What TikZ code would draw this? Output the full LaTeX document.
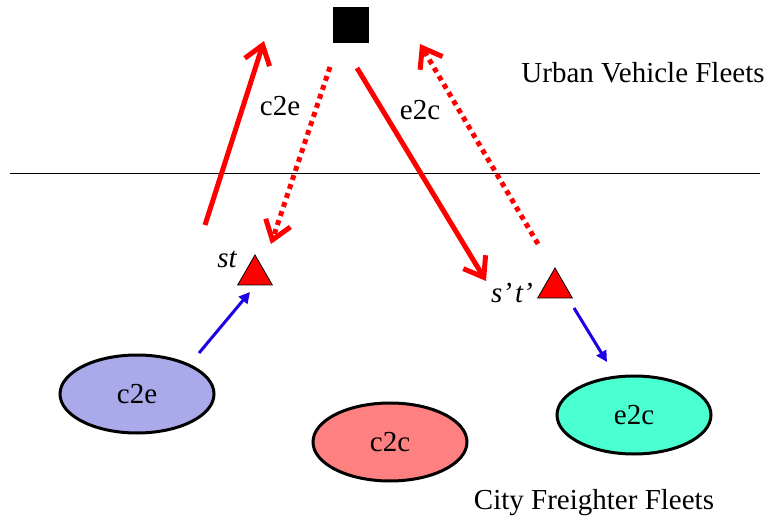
\documentclass[tikz,border=0pt]{standalone}
\usepackage{fontspec}
\setmainfont{Liberation Serif}
\usetikzlibrary{arrows.meta,shapes.geometric}
\definecolor{redarr}{RGB}{255,0,0}
\definecolor{bluearr}{RGB}{30,0,230}
\definecolor{fillA}{RGB}{170,170,235}
\definecolor{fillB}{RGB}{255,128,128}
\definecolor{fillC}{RGB}{74,255,208}
\begin{document}
\begin{tikzpicture}[x=1pt,y=-1pt,
  txt/.style={font=\fontsize{29}{33}\selectfont, inner sep=0pt},
  itxt/.style={font=\fontsize{29}{33}\selectfont\itshape, inner sep=0pt, anchor=base},
  fleet/.style={ellipse, draw=black, line width=3pt, minimum width=154pt, minimum height=78pt, inner sep=0pt, font=\fontsize{29}{33}\selectfont},
  tri/.style={regular polygon, regular polygon sides=3, fill=red, draw=black, line width=0.8pt, minimum size=40pt, inner sep=0pt},
  redsolid/.style={draw=redarr, line width=5pt, -{Straight Barb[length=18pt,width=26pt,line width=5pt]}},
  reddot/.style={draw=redarr, line width=5pt, dash pattern=on 5pt off 4.5pt, -{Straight Barb[length=18pt,width=26pt,line width=5pt]}},
  bluear/.style={draw=bluearr, line width=3pt, -{Triangle[length=11pt,width=11pt]}}]
\useasboundingbox (0,0) rectangle (771,521);
% separator
\draw[line width=0.8pt] (10,173) -- (760,173);
% hub square
\node[fill=black, minimum size=36pt, inner sep=0pt] (hub) at (351,25) {};
% triangles
\node[tri] (st) at (255,275) {};
\node[tri] (spt) at (555,288) {};
\node[itxt] (stl) at (227,268) {st};
\node[itxt] (sptl) at (512,302) {s’\kern3pt t’};
% ellipses
\node[fleet, fill=fillA] (ce) at (137,394) {c2e};
\node[fleet, fill=fillB] (cc) at (390,442) {c2c};
\node[fleet, fill=fillC] (ec) at (634,415) {e2c};
% labels
\node[txt] (lab1) at (280,106) {c2e};
\node[txt] (lab2) at (420,110) {e2c};
\node[txt] (urban) at (643,73) {Urban Vehicle Fleets};
\node[txt] (city) at (594,503) {City Freighter Fleets};
% arrow endpoints
\coordinate (a1s) at (205,225);
\coordinate (a1e) at (264,41);
\coordinate (a2s) at (330,67);
\coordinate (a2e) at (271,244);
\coordinate (a3s) at (357,68);
\coordinate (a3e) at (486,281);
\coordinate (a4s) at (538,244);
\coordinate (a4e) at (420,44);
\coordinate (b1s) at (199,353);
\coordinate (b1e) at (250,292);
\coordinate (b2s) at (574,308);
\coordinate (b2e) at (607,362);
\draw[redsolid] (a1s) -- (a1e);
\draw[reddot] (a2s) -- (a2e);
\draw[redsolid] (a3s) -- (a3e);
\draw[reddot] (a4s) -- (a4e);
\draw[bluear] (b1s) -- (b1e);
\draw[bluear] (b2s) -- (b2e);
\end{tikzpicture}
\end{document}
